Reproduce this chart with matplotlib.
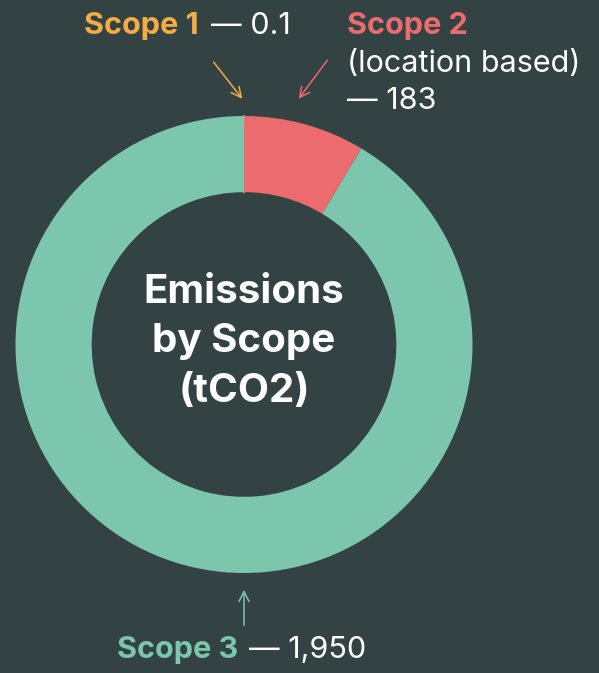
import matplotlib
matplotlib.use("Agg")
import matplotlib.pyplot as plt

categories = ["Scope 1", "Scope 2", "Scope 3"]
values = [0.1, 183, 1950]
value_labels = ["0.1", "183", "1,950"]
colors = ["#F5AC45", "#EC6B6E", "#7DC6AE"]
bg = "#334343"

W, H = 599, 673
fig = plt.figure(figsize=(W / 100, H / 100), dpi=100, facecolor=bg)
ax = fig.add_axes([0, 0, 1, 1])
ax.set_facecolor(bg)

def Y(py):
    return H - py

cx, cy, R = 244, Y(344.5), 228.5
wedges, _ = ax.pie(values, colors=colors, startangle=90, counterclock=False,
                   center=(cx, cy), radius=R, frame=True,
                   wedgeprops=dict(width=R / 3, linewidth=0))
wedges[0].set_edgecolor(colors[0])
wedges[0].set_linewidth(1.2)
ax.set_xlim(0, W)
ax.set_ylim(0, H)
ax.set_aspect("auto")
ax.axis("off")

font = "Inter"
fs = 22
ax.text(199, Y(26), categories[0], color=colors[0], fontsize=fs, fontweight="bold",
        family=font, ha="right", va="center")
ax.text(211, Y(26), "— " + value_labels[0], color="white", fontsize=fs,
        family=font, ha="left", va="center")
ax.text(347, Y(26), categories[1], color=colors[1], fontsize=fs, fontweight="bold",
        family=font, ha="left", va="center")
ax.text(347, Y(64), "(location based)", color="white", fontsize=fs,
        family=font, ha="left", va="center")
ax.text(347, Y(101), "— " + value_labels[1], color="white", fontsize=fs,
        family=font, ha="left", va="center")
ax.text(238, Y(650), categories[2], color=colors[2], fontsize=fs, fontweight="bold",
        family=font, ha="right", va="center")
ax.text(249, Y(650), "— " + value_labels[2], color="white", fontsize=fs,
        family=font, ha="left", va="center")

arrow = dict(arrowstyle="->", lw=1.1, mutation_scale=18)
ax.annotate("", xy=(244, Y(101)), xytext=(212, Y(60)),
            arrowprops=dict(color=colors[0], **arrow))
ax.annotate("", xy=(297, Y(101)), xytext=(329, Y(58)),
            arrowprops=dict(color=colors[1], **arrow))
ax.annotate("", xy=(244, Y(587)), xytext=(244, Y(628)),
            arrowprops=dict(color=colors[2], **arrow))

ax.text(cx, Y(342), "Emissions\nby Scope\n(tCO2)", color="white", fontsize=29,
        fontweight="bold", family=font, ha="center", va="center", linespacing=1.42)

fig.savefig("out.png", dpi=100, facecolor=bg)
